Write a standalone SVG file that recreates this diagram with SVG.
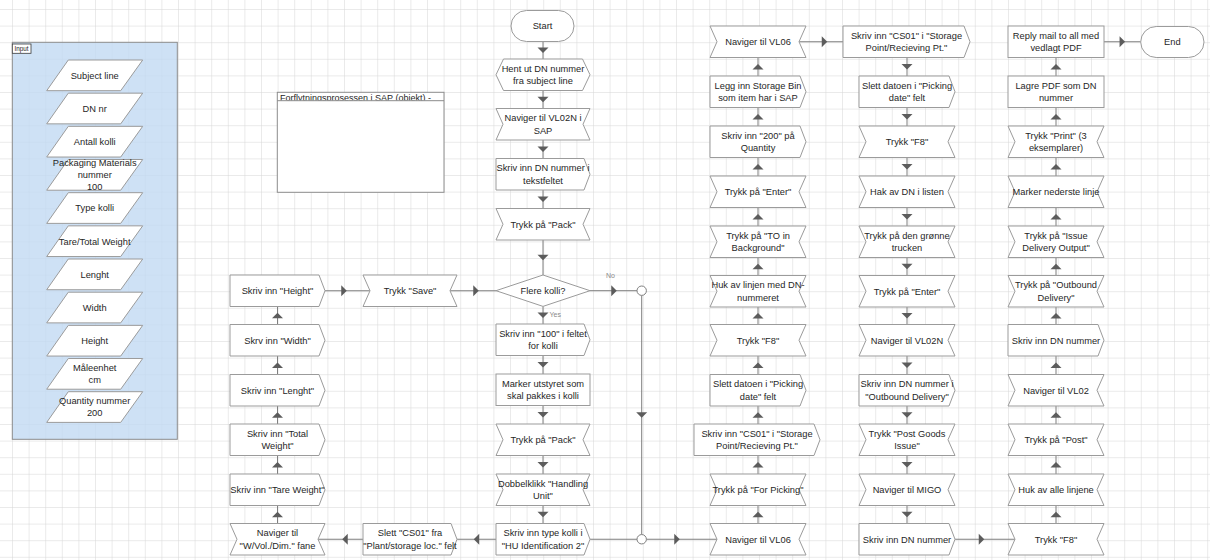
<svg xmlns="http://www.w3.org/2000/svg" width="1210" height="560" viewBox="0 0 1210 560">
  <style>
    .shp polygon, .shp rect, .shp use { fill: #ffffff; stroke: #9b9b9b; stroke-width: 1; }
    .lbl { font-family: "Liberation Sans", Arial, sans-serif; font-size: 9.3px; fill: #262626; text-anchor: middle; }
    .conn path { fill: none; stroke: #7f7f7f; stroke-width: 1; marker-mid: url(#ah); }
    .conn path.plain { marker-mid: none; }
    .junc { fill: #ffffff; stroke: #7f7f7f; stroke-width: 1; }
    .tag { font-family: "Liberation Sans", Arial, sans-serif; font-size: 7px; fill: #8a8a8a; }
  </style>
  <defs>
    <pattern id="grid" width="16.6" height="16.6" patternUnits="userSpaceOnUse" x="12" y="9">
      <path d="M0 0H16.6M0 0V16.6" fill="none" stroke="#d6d6d6" stroke-width="1"/>
    </pattern>
    <marker id="ah" viewBox="-6 -6 12 12" refX="0" refY="0" markerWidth="12" markerHeight="12" markerUnits="userSpaceOnUse" orient="auto">
      <path d="M-2.75,-5.5 L2.75,0 L-2.75,5.5 Z" fill="#5c5c5c"/>
    </marker>
    <polygon id="io" points="21.6,0 96,0 74,30.7 0,30.7"/>
    <clipPath id="titleClip"><rect x="277" y="92" width="168" height="8.4"/></clipPath>
  </defs>

  <!-- page grid -->
  <rect x="0" y="0" width="1210" height="560" fill="#ffffff"/>
  <rect x="0" y="0" width="1210" height="560" fill="url(#grid)"/>

  <!-- input container -->
  <g id="input-panel">
    <rect x="12.3" y="42.3" width="165" height="397" fill="#c2daf3" fill-opacity="0.8" stroke="#8c8c8c" stroke-width="1"/>
    <rect x="12.3" y="44" width="18.7" height="9.3" fill="#ffffff" stroke="#3a3a3a" stroke-width="0.8"/>
    <text x="21.6" y="51.2" font-family="Liberation Sans, Arial, sans-serif" font-size="6.3" fill="#222" text-anchor="middle">Input</text>
  </g>

  <g id="in-subject" class="shp"><use href="#io" x="46.7" y="60"/><text class="lbl" x="94.7" y="78.65">Subject line</text></g>
  <g id="in-dn" class="shp"><use href="#io" x="46.7" y="93.17"/><text class="lbl" x="94.7" y="111.82">DN nr</text></g>
  <g id="in-antall" class="shp"><use href="#io" x="46.7" y="126.34"/><text class="lbl" x="94.7" y="144.99">Antall kolli</text></g>
  <g id="in-packaging" class="shp"><use href="#io" x="46.7" y="159.51"/><text class="lbl" x="94.7" y="165.86"><tspan x="94.7">Packaging Materials</tspan><tspan x="94.7" dy="12.3">nummer</tspan><tspan x="94.7" dy="12.3">100</tspan></text></g>
  <g id="in-type" class="shp"><use href="#io" x="46.7" y="192.68"/><text class="lbl" x="94.7" y="211.33">Type kolli</text></g>
  <g id="in-weight" class="shp"><use href="#io" x="46.7" y="225.85"/><text class="lbl" x="94.7" y="244.5">Tare/Total Weight</text></g>
  <g id="in-length" class="shp"><use href="#io" x="46.7" y="259.02"/><text class="lbl" x="94.7" y="277.67">Lenght</text></g>
  <g id="in-width" class="shp"><use href="#io" x="46.7" y="292.19"/><text class="lbl" x="94.7" y="310.84">Width</text></g>
  <g id="in-height" class="shp"><use href="#io" x="46.7" y="325.36"/><text class="lbl" x="94.7" y="344.01">Height</text></g>
  <g id="in-unit" class="shp"><use href="#io" x="46.7" y="358.53"/><text class="lbl" x="94.7" y="370.98"><tspan x="94.7">Måleenhet</tspan><tspan x="94.7" dy="12.3">cm</tspan></text></g>
  <g id="in-quantity" class="shp"><use href="#io" x="46.7" y="391.7"/><text class="lbl" x="94.7" y="404.15"><tspan x="94.7">Quantity nummer</tspan><tspan x="94.7" dy="12.3">200</tspan></text></g>

  <!-- title box -->
  <g id="title-box">
    <rect x="277.3" y="92.3" width="166.7" height="100" fill="#ffffff" stroke="#8c8c8c" stroke-width="1"/>
    <text x="280" y="101.4" font-family="Liberation Sans, Arial, sans-serif" font-size="9" fill="#262626" clip-path="url(#titleClip)">Forflytningsprosessen i SAP (objekt) -</text>
    <line x1="277.3" y1="100.7" x2="444" y2="100.7" stroke="#8c8c8c" stroke-width="1"/>
  </g>

  <!-- connectors -->
  <g id="connectors" class="conn">
    <!-- main column -->
    <path d="M543 41.5 L543 50.25 L543 59"/>
    <path d="M543 90.5 L543 99.5 L543 108.5"/>
    <path d="M543 140 L543 149.25 L543 158.5"/>
    <path d="M543 190 L543 199.25 L543 208.5"/>
    <path d="M543 240 L543 257.5 L543 275"/>
    <path d="M543 306.4 L543 315.2 L543 324"/>
    <path d="M543 355.5 L543 364.75 L543 374"/>
    <path d="M543 405.5 L543 414.75 L543 424"/>
    <path d="M543 455.5 L543 464.75 L543 474"/>
    <path d="M543 505.5 L543 514.5 L543 523.5"/>
    <!-- decision branches -->
    <path d="M590 290.7 L614 290.7 L637 290.7"/>
    <path d="M641.7 295.4 L641.7 415 L641.7 534.6"/>
    <path d="M646.4 539.25 L677 539.25 L717 539.25"/>
    <path class="plain" d="M590 539.25 L637 539.25"/>
    <!-- loop back through measurements -->
    <path d="M496 539.25 L476.5 539.25 L457 539.25"/>
    <path d="M363 539.25 L345 539.25 L318 539.25"/>
    <path d="M277.5 523.5 L277.5 514.5 L277.5 505.5"/>
    <path d="M277.5 474 L277.5 464.75 L277.5 455.5"/>
    <path d="M277.5 424 L277.5 415 L277.5 406"/>
    <path d="M277.5 374.5 L277.5 365.25 L277.5 356"/>
    <path d="M277.5 324.5 L277.5 315.5 L277.5 306.5"/>
    <path d="M325 290.75 L344 290.75 L370 290.75"/>
    <path d="M450 290.75 L476 290.75 L496 290.75"/>
    <!-- VL06 column (upwards) -->
    <path d="M758 523.5 L758 514.5 L758 505.5"/>
    <path d="M758 474 L758 464.75 L758 455.5"/>
    <path d="M758 424 L758 415 L758 406"/>
    <path d="M758 374.5 L758 365.25 L758 356"/>
    <path d="M758 324.5 L758 315.75 L758 307"/>
    <path d="M758 275.5 L758 266.5 L758 257.5"/>
    <path d="M758 226 L758 216.75 L758 207.5"/>
    <path d="M758 176 L758 166.75 L758 157.5"/>
    <path d="M758 126 L758 116.75 L758 107.5"/>
    <path d="M758 76 L758 66.75 L758 57.5"/>
    <path d="M799 41.75 L824.5 41.75 L843 41.75"/>
    <!-- picking / goods issue column (downwards) -->
    <path d="M907 57.5 L907 66.75 L907 76"/>
    <path d="M907 107.5 L907 116.75 L907 126"/>
    <path d="M907 157.5 L907 166.75 L907 176"/>
    <path d="M907 207.5 L907 216.75 L907 226"/>
    <path d="M907 257.5 L907 266.5 L907 275.5"/>
    <path d="M907 307 L907 315.75 L907 324.5"/>
    <path d="M907 356 L907 365.25 L907 374.5"/>
    <path d="M907 406 L907 415 L907 424"/>
    <path d="M907 455.5 L907 464.75 L907 474"/>
    <path d="M907 505.5 L907 514.5 L907 523.5"/>
    <path d="M955 539.25 L981.5 539.25 L1015 539.25"/>
    <!-- output column (upwards) -->
    <path d="M1056 523.5 L1056 514.5 L1056 505.5"/>
    <path d="M1056 474 L1056 464.75 L1056 455.5"/>
    <path d="M1056 424 L1056 415 L1056 406"/>
    <path d="M1056 374.5 L1056 365.25 L1056 356"/>
    <path d="M1056 324.5 L1056 315.75 L1056 307"/>
    <path d="M1056 275.5 L1056 266.5 L1056 257.5"/>
    <path d="M1056 226 L1056 216.75 L1056 207.5"/>
    <path d="M1056 176 L1056 166.75 L1056 157.5"/>
    <path d="M1056 126 L1056 116.75 L1056 107.5"/>
    <path d="M1056 76 L1056 66.75 L1056 57.5"/>
    <path d="M1104 41.75 L1122.3 41.75 L1140.7 41.75"/>
  </g>
  <g id="junctions">
    <circle class="junc" cx="641.7" cy="290.7" r="4.7"/>
    <circle class="junc" cx="641.7" cy="539.25" r="4.7"/>
    <text class="tag" x="606" y="277.5">No</text>
    <text class="tag" x="549.5" y="316.5">Yes</text>
  </g>

  <!-- main column -->
  <g id="start" class="shp"><rect x="511" y="10.5" width="63" height="31" rx="15.5"/><text class="lbl" x="542.5" y="29.3">Start</text></g>
  <g id="hent-dn" class="shp"><polygon points="503.5,59 582.5,59 590,74.75 582.5,90.5 503.5,90.5 496,74.75"/><text class="lbl" x="543" y="71.85"><tspan x="543">Hent ut DN nummer</tspan><tspan x="543" dy="12.3">fra subject line</tspan></text></g>
  <g id="nav-vl02n" class="shp"><polygon points="496,108.5 590,108.5 583,124.25 590,140 496,140 503,124.25"/><text class="lbl" x="543" y="121.35"><tspan x="543">Naviger til VL02N i</tspan><tspan x="543" dy="12.3">SAP</tspan></text></g>
  <g id="skriv-dn" class="shp"><polygon points="496,158.5 584,158.5 590,174.25 584,190 496,190"/><text class="lbl" x="543" y="171.35"><tspan x="543">Skriv inn DN nummer i</tspan><tspan x="543" dy="12.3">tekstfeltet</tspan></text></g>
  <g id="pack-1" class="shp"><polygon points="496,208.5 590,208.5 583,224.25 590,240 496,240 503,224.25"/><text class="lbl" x="543" y="227.55">Trykk på "Pack"</text></g>
  <g id="flere-kolli" class="shp"><polygon points="543,275 590,290.7 543,306.4 496,290.7"/><text class="lbl" x="543" y="294">Flere kolli?</text></g>
  <g id="skriv-100" class="shp"><polygon points="496,324 584,324 590,339.75 584,355.5 496,355.5"/><text class="lbl" x="543" y="336.85"><tspan x="543">Skriv inn "100" i feltet</tspan><tspan x="543" dy="12.3">for kolli</tspan></text></g>
  <g id="marker-utstyr" class="shp"><rect x="496" y="374" width="94" height="31.5"/><text class="lbl" x="543" y="386.85"><tspan x="543">Marker utstyret som</tspan><tspan x="543" dy="12.3">skal pakkes i kolli</tspan></text></g>
  <g id="pack-2" class="shp"><polygon points="496,424 590,424 583,439.75 590,455.5 496,455.5 503,439.75"/><text class="lbl" x="543" y="443.05">Trykk på "Pack"</text></g>
  <g id="dobbelklikk" class="shp"><polygon points="496,474 590,474 583,489.75 590,505.5 496,505.5 503,489.75"/><text class="lbl" x="543" y="486.85"><tspan x="543">Dobbelklikk "Handling</tspan><tspan x="543" dy="12.3">Unit"</tspan></text></g>
  <g id="skriv-type" class="shp"><polygon points="496,523.5 584,523.5 590,539.25 584,555 496,555"/><text class="lbl" x="543" y="536.35"><tspan x="543">Skriv inn type kolli i</tspan><tspan x="543" dy="12.3">"HU Identification 2"</tspan></text></g>

  <!-- measurement column -->
  <g id="slett-cs01" class="shp"><polygon points="363,523.5 451,523.5 457,539.25 451,555 363,555"/><text class="lbl" x="410" y="536.35"><tspan x="410">Slett "CS01" fra</tspan><tspan x="410" dy="12.3">"Plant/storage loc." felt</tspan></text></g>
  <g id="nav-dim" class="shp"><polygon points="230,523.5 325,523.5 318,539.25 325,555 230,555 237,539.25"/><text class="lbl" x="277.5" y="536.35"><tspan x="277.5">Naviger til</tspan><tspan x="277.5" dy="12.3">"W/Vol./Dim." fane</tspan></text></g>
  <g id="skriv-tare" class="shp"><polygon points="230,474 319,474 325,489.75 319,505.5 230,505.5"/><text class="lbl" x="277.5" y="493.05">Skriv inn "Tare Weight"</text></g>
  <g id="skriv-total" class="shp"><polygon points="230,424 319,424 325,439.75 319,455.5 230,455.5"/><text class="lbl" x="277.5" y="436.85"><tspan x="277.5">Skriv inn "Total</tspan><tspan x="277.5" dy="12.3">Weight"</tspan></text></g>
  <g id="skriv-length" class="shp"><polygon points="230,374.5 319,374.5 325,390.25 319,406 230,406"/><text class="lbl" x="277.5" y="393.55">Skriv inn "Lenght"</text></g>
  <g id="skriv-width" class="shp"><polygon points="230,324.5 319,324.5 325,340.25 319,356 230,356"/><text class="lbl" x="277.5" y="343.55">Skrv inn "Width"</text></g>
  <g id="skriv-height" class="shp"><polygon points="230,275 319,275 325,290.75 319,306.5 230,306.5"/><text class="lbl" x="277.5" y="294.05">Skriv inn "Height"</text></g>
  <g id="save" class="shp"><polygon points="363,275 457,275 450,290.75 457,306.5 363,306.5 370,290.75"/><text class="lbl" x="410" y="294.05">Trykk "Save"</text></g>

  <!-- VL06 column -->
  <g id="c2-nav-vl06-top" class="shp"><polygon points="710,26 806,26 799,41.75 806,57.5 710,57.5 717,41.75"/><text class="lbl" x="758" y="45.05">Naviger til VL06</text></g>
  <g id="c2-storage-bin" class="shp"><polygon points="710,76 800,76 806,91.75 800,107.5 710,107.5"/><text class="lbl" x="758" y="88.85"><tspan x="758">Legg inn Storage Bin</tspan><tspan x="758" dy="12.3">som item har i SAP</tspan></text></g>
  <g id="c2-quantity" class="shp"><polygon points="710,126 800,126 806,141.75 800,157.5 710,157.5"/><text class="lbl" x="758" y="138.85"><tspan x="758">Skriv inn "200" på</tspan><tspan x="758" dy="12.3">Quantity</tspan></text></g>
  <g id="c2-enter" class="shp"><polygon points="710,176 806,176 799,191.75 806,207.5 710,207.5 717,191.75"/><text class="lbl" x="758" y="195.05">Trykk på "Enter"</text></g>
  <g id="c2-to-bg" class="shp"><polygon points="710,226 806,226 799,241.75 806,257.5 710,257.5 717,241.75"/><text class="lbl" x="758" y="238.85"><tspan x="758">Trykk på "TO in</tspan><tspan x="758" dy="12.3">Background"</tspan></text></g>
  <g id="c2-huk" class="shp"><polygon points="710,275.5 806,275.5 799,291.25 806,307 710,307 717,291.25"/><text class="lbl" x="758" y="288.35"><tspan x="758">Huk av linjen med DN-</tspan><tspan x="758" dy="12.3">nummeret</tspan></text></g>
  <g id="c2-f8" class="shp"><polygon points="710,324.5 806,324.5 799,340.25 806,356 710,356 717,340.25"/><text class="lbl" x="758" y="343.55">Trykk "F8"</text></g>
  <g id="c2-slett-dato" class="shp"><polygon points="710,374.5 800,374.5 806,390.25 800,406 710,406"/><text class="lbl" x="758" y="387.35"><tspan x="758">Slett datoen i "Picking</tspan><tspan x="758" dy="12.3">date" felt</tspan></text></g>
  <g id="c2-cs01" class="shp"><polygon points="694,424 814,424 820,439.75 814,455.5 694,455.5"/><text class="lbl" x="757" y="436.85"><tspan x="757">Skriv inn "CS01" i "Storage</tspan><tspan x="757" dy="12.3">Point/Recieving Pt."</tspan></text></g>
  <g id="c2-for-picking" class="shp"><polygon points="710,474 806,474 799,489.75 806,505.5 710,505.5 717,489.75"/><text class="lbl" x="758" y="493.05">Trykk på "For Picking"</text></g>
  <g id="c2-nav-vl06-bottom" class="shp"><polygon points="710,523.5 806,523.5 799,539.25 806,555 710,555 717,539.25"/><text class="lbl" x="758" y="542.55">Naviger til VL06</text></g>

  <!-- picking / goods issue column -->
  <g id="c3-cs01" class="shp"><polygon points="843,26 964,26 970,41.75 964,57.5 843,57.5"/><text class="lbl" x="906.5" y="38.85"><tspan x="906.5">Skriv inn "CS01" i "Storage</tspan><tspan x="906.5" dy="12.3">Point/Recieving Pt."</tspan></text></g>
  <g id="c3-slett-dato" class="shp"><polygon points="859,76 949,76 955,91.75 949,107.5 859,107.5"/><text class="lbl" x="907" y="88.85"><tspan x="907">Slett datoen i "Picking</tspan><tspan x="907" dy="12.3">date" felt</tspan></text></g>
  <g id="c3-f8" class="shp"><polygon points="859,126 955,126 948,141.75 955,157.5 859,157.5 866,141.75"/><text class="lbl" x="907" y="145.05">Trykk "F8"</text></g>
  <g id="c3-hak" class="shp"><polygon points="859,176 955,176 948,191.75 955,207.5 859,207.5 866,191.75"/><text class="lbl" x="907" y="195.05">Hak av DN i listen</text></g>
  <g id="c3-truck" class="shp"><polygon points="859,226 955,226 948,241.75 955,257.5 859,257.5 866,241.75"/><text class="lbl" x="907" y="238.85"><tspan x="907">Trykk på den grønne</tspan><tspan x="907" dy="12.3">trucken</tspan></text></g>
  <g id="c3-enter" class="shp"><polygon points="859,275.5 955,275.5 948,291.25 955,307 859,307 866,291.25"/><text class="lbl" x="907" y="294.55">Trykk på "Enter"</text></g>
  <g id="c3-nav-vl02n" class="shp"><polygon points="859,324.5 955,324.5 948,340.25 955,356 859,356 866,340.25"/><text class="lbl" x="907" y="343.55">Naviger til VL02N</text></g>
  <g id="c3-outbound" class="shp"><polygon points="859,374.5 949,374.5 955,390.25 949,406 859,406"/><text class="lbl" x="907" y="387.35"><tspan x="907">Skriv inn DN nummer i</tspan><tspan x="907" dy="12.3">"Outbound Delivery"</tspan></text></g>
  <g id="c3-pgi" class="shp"><polygon points="859,424 955,424 948,439.75 955,455.5 859,455.5 866,439.75"/><text class="lbl" x="907" y="436.85"><tspan x="907">Trykk "Post Goods</tspan><tspan x="907" dy="12.3">Issue"</tspan></text></g>
  <g id="c3-migo" class="shp"><polygon points="859,474 955,474 948,489.75 955,505.5 859,505.5 866,489.75"/><text class="lbl" x="907" y="493.05">Naviger til MIGO</text></g>
  <g id="c3-skriv-dn" class="shp"><polygon points="859,523.5 949,523.5 955,539.25 949,555 859,555"/><text class="lbl" x="907" y="542.55">Skriv inn DN nummer</text></g>

  <!-- output column -->
  <g id="c4-reply" class="shp"><rect x="1008" y="26" width="96" height="31.5"/><text class="lbl" x="1056" y="38.85"><tspan x="1056">Reply mail to all med</tspan><tspan x="1056" dy="12.3">vedlagt PDF</tspan></text></g>
  <g id="c4-lagre" class="shp"><rect x="1008" y="76" width="96" height="31.5"/><text class="lbl" x="1056" y="88.85"><tspan x="1056">Lagre PDF som DN</tspan><tspan x="1056" dy="12.3">nummer</tspan></text></g>
  <g id="c4-print" class="shp"><polygon points="1008,126 1104,126 1097,141.75 1104,157.5 1008,157.5 1015,141.75"/><text class="lbl" x="1056" y="138.85"><tspan x="1056">Trykk "Print" (3</tspan><tspan x="1056" dy="12.3">eksemplarer)</tspan></text></g>
  <g id="c4-nederste" class="shp"><polygon points="1008,176 1104,176 1097,191.75 1104,207.5 1008,207.5 1015,191.75"/><text class="lbl" x="1056" y="195.05">Marker nederste linje</text></g>
  <g id="c4-issue-output" class="shp"><polygon points="1008,226 1104,226 1097,241.75 1104,257.5 1008,257.5 1015,241.75"/><text class="lbl" x="1056" y="238.85"><tspan x="1056">Trykk på "Issue</tspan><tspan x="1056" dy="12.3">Delivery Output"</tspan></text></g>
  <g id="c4-outbound" class="shp"><polygon points="1008,275.5 1104,275.5 1097,291.25 1104,307 1008,307 1015,291.25"/><text class="lbl" x="1056" y="288.35"><tspan x="1056">Trykk på "Outbound</tspan><tspan x="1056" dy="12.3">Delivery"</tspan></text></g>
  <g id="c4-skriv-dn" class="shp"><polygon points="1008,324.5 1098,324.5 1104,340.25 1098,356 1008,356"/><text class="lbl" x="1056" y="343.55">Skriv inn DN nummer</text></g>
  <g id="c4-nav-vl02" class="shp"><polygon points="1008,374.5 1104,374.5 1097,390.25 1104,406 1008,406 1015,390.25"/><text class="lbl" x="1056" y="393.55">Naviger til VL02</text></g>
  <g id="c4-post" class="shp"><polygon points="1008,424 1104,424 1097,439.75 1104,455.5 1008,455.5 1015,439.75"/><text class="lbl" x="1056" y="443.05">Trykk på "Post"</text></g>
  <g id="c4-huk-alle" class="shp"><polygon points="1008,474 1104,474 1097,489.75 1104,505.5 1008,505.5 1015,489.75"/><text class="lbl" x="1056" y="493.05">Huk av alle linjene</text></g>
  <g id="c4-f8" class="shp"><polygon points="1008,523.5 1104,523.5 1097,539.25 1104,555 1008,555 1015,539.25"/><text class="lbl" x="1056" y="542.55">Trykk "F8"</text></g>
  <g id="end" class="shp"><rect x="1140.7" y="26.5" width="63.3" height="31" rx="15.5"/><text class="lbl" x="1172.3" y="45.05">End</text></g>
</svg>
